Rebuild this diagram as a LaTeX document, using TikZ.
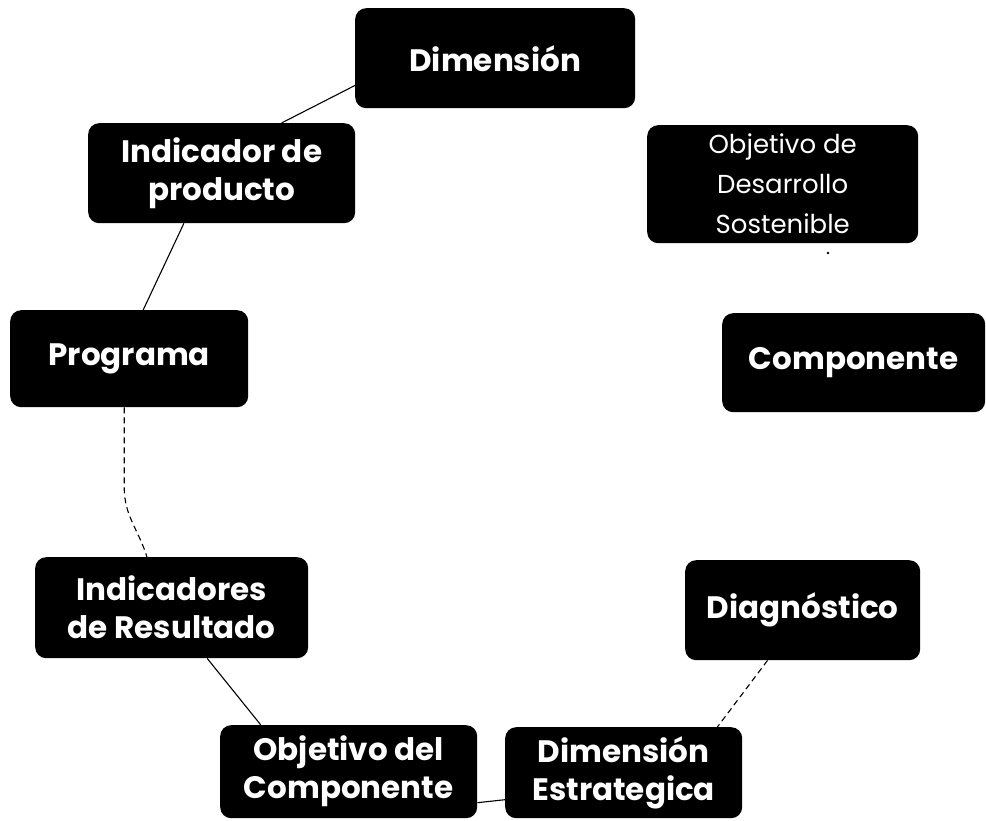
\documentclass[tikz,border=0pt]{standalone}
\usepackage{fontspec}
\setmainfont{Poppins}
\usetikzlibrary{calc}
\begin{document}
\begin{tikzpicture}[x=1pt,y=-1pt,
  box/.style={rectangle, rounded corners=11pt, fill=black, text=white, inner sep=0pt,
    align=center, anchor=north west, font=\bfseries\fontsize{31}{38}\selectfont},
  smallbox/.style={box, font=\fontsize{26}{40}\selectfont},
  link/.style={draw=black, line width=1.1pt},
  dlink/.style={link, dash pattern=on 6pt off 4pt}]
\useasboundingbox (0,0) rectangle (986,821);

\node[box, minimum width=280pt, minimum height=100pt] (dim) at (355,8) {Dimensión};
\node[box, minimum width=267pt, minimum height=100pt] (ind) at (88,123) {Indicador de\\producto};
\node[smallbox, minimum width=271pt, minimum height=118pt] (ods) at (647,125) {Objetivo de\\Desarrollo\\Sostenible};
\node[box, minimum width=238pt, minimum height=97pt] (prog) at (10,310) {Programa};
\node[box, minimum width=263pt, minimum height=99pt] (comp) at (722,313) {Componente};
\node[box, minimum width=273pt, minimum height=101pt] (indres) at (35,557) {Indicadores\\de Resultado};
\node[box, minimum width=235pt, minimum height=100pt] (diag) at (685,560) {Diagnóstico};
\node[box, minimum width=257pt, minimum height=93pt] (objcomp) at (220,725) {Objetivo del\\Componente};
\node[box, minimum width=237pt, minimum height=91pt] (dimest) at (505,727) {Dimensión\\Estrategica};

\coordinate (dot) at (828,253);
\fill (dot) circle (1.3pt);

\draw[link] (dim.191) -- (ind.40);
\draw[link] (ind.233) -- (prog.74);
\draw[dlink] ([xshift=-5pt]prog.south) -- ++(0,80) to[out=-90,in=107] (indres.116);
\draw[link] (indres.305) -- (objcomp.152);
\draw[link] ([yshift=-31pt]objcomp.east) -- ([yshift=-27pt]dimest.west);
\draw[dlink] (diag.235) -- (dimest.26);
\end{tikzpicture}
\end{document}
